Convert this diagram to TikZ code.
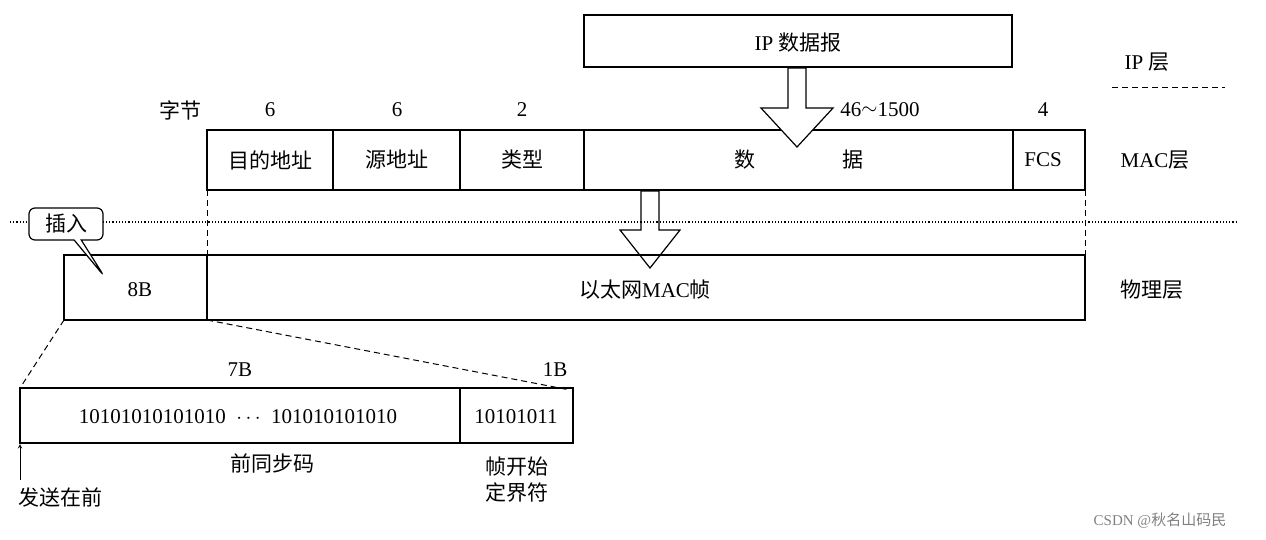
\documentclass[tikz,border=0pt]{standalone}
\usepackage{fontspec}
\setmainfont{Liberation Serif}
\newfontfamily\cjk{Noto Sans CJK SC}
\usetikzlibrary{shapes.callouts}
\begin{document}
\begin{tikzpicture}[x=1pt,y=-1pt,
  box/.style={draw,line width=1.6pt},
  lbl/.style={font=\fontsize{21}{24}\selectfont,inner sep=0},
  dsh/.style={dashed,line width=1pt,dash pattern=on 6pt off 4pt},
  hol/.style={draw,line width=1.2pt,fill=white}]
\useasboundingbox (0,0) rectangle (1266,539);
% IP box
\node[box,minimum width=428,minimum height=52,inner sep=0] (ip) at (798,41) {};
\node[lbl] (iplbl) at (798,43) {IP {\cjk 数据报}};
\node[lbl] (ipl) at (1147,62) {IP {\cjk 层}};
\coordinate (d1) at (1112,87); \coordinate (d2) at (1225,87);
\draw[dsh] (d1) -- (d2);
% MAC row
\draw[box] (207,130) rectangle (1085,190);
\foreach \x in {333,460,584,1013} \draw[line width=1.2pt] (\x,130) -- (\x,190);
\node[lbl] (f1) at (270,160) {\cjk 目的地址};
\node[lbl] (f2) at (397,160) {\cjk 源地址};
\node[lbl] (f3) at (522,160) {\cjk 类型};
\node[lbl] (f4a) at (745,160) {\cjk 数};
\node[lbl] (f4b) at (853,160) {\cjk 据};
\node[lbl] (f5) at (1043,160) {FCS};
\node[lbl] (t0) at (180,110) {\cjk 字节};
\node[lbl] (t1) at (270,110) {6};
\node[lbl] (t2) at (397,110) {6};
\node[lbl] (t3) at (522,110) {2};
\node[lbl] (t4) at (880,110) {46\raisebox{2pt}{$\sim$}1500};
\node[lbl] (t5) at (1043,110) {4};
\node[lbl] (macl) at (1155,160) {MAC{\cjk 层}};
% arrows (hollow)
\draw[hol] (788,68) -- (806,68) -- (806,108) -- (833,108) -- (797,147) -- (761,108) -- (788,108) -- cycle;
\draw[hol] (641,191) -- (659,191) -- (659,230) -- (680,230) -- (650,268) -- (620,230) -- (641,230) -- cycle;
% dotted separator
\coordinate (s1) at (10,222); \coordinate (s2) at (1238,222);
\draw[dotted,line width=1.2pt] (s1) -- (s2);
\draw[dsh] (207,190) -- (207,255);
\draw[dsh] (1085,190) -- (1085,255);
% physical row
\draw[box] (64,255) rectangle (1085,320);
\draw[line width=1.2pt] (207,255) -- (207,320);
\node[lbl] (b8) at (140,290) {8B};
\node[lbl] (frm) at (645,290) {{\cjk 以太网}MAC{\cjk 帧}};
\node[lbl] (phl) at (1152,290) {\cjk 物理层};
% callout
\node[draw,line width=1.2pt,rounded corners=6pt,rectangle callout,fill=white,
  callout absolute pointer={(104,276)},minimum width=74,minimum height=32,lbl,inner sep=0] (ins) at (66,224) {\cjk 插入};
% zoom lines
\draw[dsh] (64,320) -- (20,388);
\draw[dsh] (207,320) -- (570,390);
% bottom box
\draw[box] (20,388) rectangle (573,443);
\draw[line width=1.2pt] (460,388) -- (460,443);
\node[lbl] (b7) at (240,370) {7B};
\node[lbl] (b1) at (555,370) {1B};
\node[lbl] (bits1) at (238,417) {10101010101010 \ $\cdots$ \ 101010101010};
\node[lbl] (bits2) at (516,417) {10101011};
\node[lbl] (pre) at (272,463) {\cjk 前同步码};
\node[lbl,align=center] (sfd) at (517,480) {\cjk 帧开始\\[2pt]\cjk 定界符};
\coordinate (a1) at (20,480); \coordinate (a2) at (20,444);
\draw[-stealth,line width=1pt] (a1) -- (a2);
\node[lbl] (first) at (60,497) {\cjk 发送在前};
\node[font=\fontsize{15}{18}\selectfont,text=gray,inner sep=0] (wm) at (1160,521) {CSDN @{\cjk 秋名山码民}};
\end{tikzpicture}
\end{document}
